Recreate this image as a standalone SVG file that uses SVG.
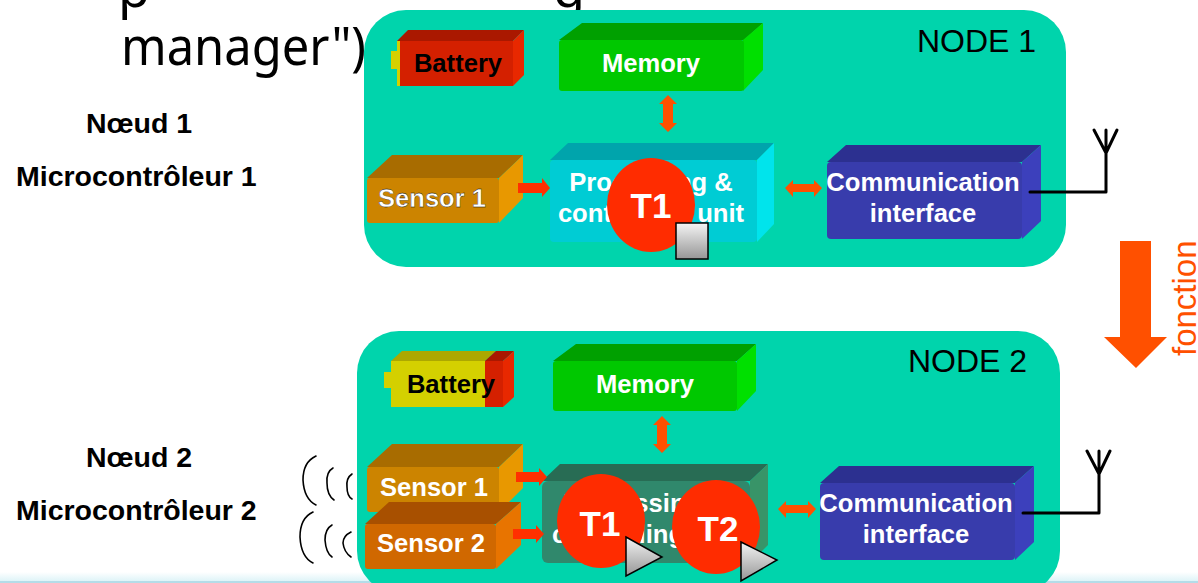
<svg xmlns="http://www.w3.org/2000/svg" width="1198" height="583" viewBox="0 0 1198 583">
<style>
text{font-family:"Liberation Sans",Arial,sans-serif}
.lb{font-weight:bold;font-size:25.6px;fill:#fff;text-anchor:middle}
.bk{font-weight:bold;font-size:25.6px;fill:#000;text-anchor:middle}
.side{font-weight:bold;font-size:28.5px;fill:#000}
.tt{font-weight:bold;font-size:35px;fill:#fff;text-anchor:middle}
.nd{font-size:32px;fill:#000}
.panel{fill:#00D4AC}
.ball{fill:#FF2C00}
.wave{fill:none;stroke:#000;stroke-width:1.6;stroke-linecap:round}
.ant{fill:none;stroke:#000;stroke-width:3;stroke-linecap:round;stroke-linejoin:round}
.flow{fill:#FF3000}
.bi{fill:#FF5000}
.state{stroke:#000;stroke-width:1.5;fill:url(#grey)}
</style>
<defs>
<linearGradient id="grey" x1="0" y1="0" x2="0" y2="1"><stop offset="0" stop-color="#F4F4F4"/><stop offset="1" stop-color="#969696"/></linearGradient>
<linearGradient id="strip" x1="0" y1="0" x2="0" y2="1"><stop offset="0" stop-color="#FFFFFF"/><stop offset="0.8" stop-color="#DFF4F8"/><stop offset="0.85" stop-color="#B4DCE8"/><stop offset="1" stop-color="#B4DCE8"/></linearGradient>
</defs>
<rect width="1198" height="583" fill="#fff"/>
<rect x="0" y="572" width="1198" height="11" fill="url(#strip)"/>
<g id="title">
<text x="118" y="7" font-size="52" style="font-family:'Noto Sans',sans-serif">p</text>
<text x="553" y="7" font-size="52" style="font-family:'Noto Sans',sans-serif">g</text>
<text x="121" y="65" font-size="52" textLength="245" lengthAdjust="spacingAndGlyphs" style="font-family:'Noto Sans',sans-serif">manager")</text>
</g>
<g id="labels">
<text class="side" x="86" y="133">Nœud 1</text>
<text class="side" x="16" y="186">Microcontrôleur 1</text>
<text class="side" x="86" y="467">Nœud 2</text>
<text class="side" x="16" y="520">Microcontrôleur 2</text>
</g>
<g id="waves">
<path class="wave" d="M316 456Q303 462 303 480Q304 499 316 505"/>
<path class="wave" d="M333 468Q326 472 327 483Q327 495 334 500"/>
<path class="wave" d="M352 474Q346 478 347 487Q347 496 352 499"/>
<path class="wave" d="M313 512Q300 518 300 537Q301 557 313 563"/>
<path class="wave" d="M332 525Q325 529 325 540Q326 553 332 557"/>
<path class="wave" d="M351 532Q343 536 343 543Q344 552 351 557"/>
</g>
<g id="node1">
<rect class="panel" x="364" y="10" width="702" height="257" rx="42" ry="42"/>
<text class="nd" x="917" y="52">NODE 1</text>
</g>
<g id="node2">
<rect class="panel" x="357" y="331" width="703" height="262" rx="42" ry="42"/>
<text class="nd" x="908" y="372">NODE 2</text>
</g>
<g id="battery1">
<rect x="391" y="51" width="7" height="18" fill="#D4D000"/>
<rect x="397" y="41" width="4" height="45" fill="#D4D000"/>
<polygon points="397,41 408,30 524,30 513,41" fill="#AA1800"/>
<polygon points="513,41 524,30 524,75 513,86" fill="#E82800"/>
<rect x="400" y="41" width="113" height="45" fill="#D42000"/>
<text class="bk" x="458" y="72">Battery</text>
</g>
<g id="memory1">
<polygon points="559,40 582,23 763,23 744,40" fill="#00A000"/>
<polygon points="743,40 763,23 763,70 743,91" fill="#00E000"/>
<rect x="559" y="40" width="185" height="51" rx="3" fill="#00C800"/>
<text class="lb" x="651" y="72">Memory</text>
</g>
<g id="sensor1">
<polygon points="367,178 392,155 523,155 499,178" fill="#A86C00"/>
<polygon points="499,178 523,155 523,198 499,223" fill="#E89800"/>
<rect x="367" y="178" width="132" height="45" rx="3" fill="#CC8400"/>
<text class="lb" x="432" y="207" stroke="#000" stroke-width="0.3">Sensor 1</text>
</g>
<g id="processing1">
<polygon points="550,160 568,143 774,143 757,160" fill="#00A4AC"/>
<polygon points="757,160 774,143 774,224 757,242" fill="#00E4EC"/>
<rect x="550" y="160" width="207" height="82" rx="4" fill="#00CCD4"/>
<text class="lb" x="651" y="191">Processing &amp;</text>
<text class="lb" x="651" y="222">controlling unit</text>
</g>
<g id="comm1">
<polygon points="827,162 846,145 1041,145 1022,162" fill="#2C3090"/>
<polygon points="1022,162 1041,145 1041,221 1022,239" fill="#3C40BC"/>
<rect x="827" y="162" width="195" height="77" rx="4" fill="#383CAC"/>
<text class="lb" x="923" y="191">Communication</text>
<text class="lb" x="923" y="222">interface</text>
</g>
<g id="battery2">
<rect x="384" y="372" width="8" height="16" fill="#D4D000"/>
<polygon points="391,361 402,351 496,351 485,361" fill="#ACA800"/>
<polygon points="485,361 496,351 514,351 503,361" fill="#AA1800"/>
<polygon points="503,361 514,351 514,397 503,407" fill="#E82800"/>
<rect x="391" y="361" width="94" height="46" fill="#D4D000"/>
<rect x="485" y="361" width="18" height="46" fill="#D42000"/>
<text class="bk" x="451" y="393">Battery</text>
</g>
<g id="memory2">
<polygon points="553,361 576,344 756,344 737,361" fill="#00A000"/>
<polygon points="737,361 756,344 756,391 737,411" fill="#00E000"/>
<rect x="553" y="361" width="184" height="50" rx="3" fill="#00C800"/>
<text class="lb" x="645" y="393">Memory</text>
</g>
<g id="sensor2-1">
<polygon points="367,467 392,444 523,444 499,467" fill="#A86C00"/>
<polygon points="499,467 523,444 523,488 499,512" fill="#E89800"/>
<rect x="367" y="467" width="132" height="45" rx="3" fill="#CC8400"/>
<text class="lb" x="434" y="496">Sensor 1</text>
</g>
<g id="sensor2-2">
<polygon points="365,524 389,502 521,502 496,524" fill="#A85000"/>
<polygon points="496,524 521,502 521,545 496,569" fill="#E87400"/>
<rect x="365" y="524" width="131" height="45" rx="3" fill="#D06800"/>
<text class="lb" x="431" y="552">Sensor 2</text>
</g>
<g id="processing2">
<polygon points="542,481 560,464 768,464 750,481" fill="#286C54"/>
<polygon points="750,481 768,464 768,545 750,563" fill="#389468"/>
<rect x="542" y="481" width="208" height="82" rx="6" fill="#30886C"/>
<text class="lb" x="645" y="512">Processing &amp;</text>
<text class="lb" x="645" y="543">controlling unit</text>
</g>
<g id="comm2">
<polygon points="820,483 839,466 1034,466 1015,483" fill="#2C3090"/>
<polygon points="1015,483 1034,466 1034,542 1015,560" fill="#3C40BC"/>
<rect x="820" y="483" width="195" height="77" rx="4" fill="#383CAC"/>
<text class="lb" x="916" y="512">Communication</text>
<text class="lb" x="916" y="543">interface</text>
</g>
<g id="connectors">
<polygon class="flow" points="518,183 542,183 542,178 550,188 542,197 542,193 518,193"/>
<polygon class="flow" points="516,472 539,472 539,468 547,477 539,486 539,482 516,482"/>
<polygon class="flow" points="513,529 536,529 536,525 544,534 536,543 536,539 513,539"/>
<polygon class="bi" points="668,95 677,104 673,104 673,123 677,123 668,132 659,123 663,123 663,104 659,104"/>
<polygon class="bi" points="662,416 671,425 667,425 667,444 671,444 662,453 653,444 657,444 657,425 653,425"/>
<polygon class="bi" points="785,188 793,180 793,184 814,184 814,180 822,188 814,197 814,192 793,192 793,197"/>
<polygon class="bi" points="778,509 786,501 786,505 808,505 808,501 816,509 808,518 808,513 786,513 786,518"/>
<path class="ant" d="M1030 192H1106V130M1094 130L1106 153L1117 130"/>
<path class="ant" d="M1023 513H1099V451M1087 451L1099 474L1110 451"/>
</g>
<g id="function-arrow">
<polygon points="1120,241 1151,241 1151,337 1167,337 1136,368 1104,337 1120,337" fill="#FF5000"/>
<text transform="translate(1196 356) rotate(-90)" font-size="33" fill="#FF5000">fonction</text>
</g>
<g id="task1-a">
<ellipse class="ball" cx="651" cy="205" rx="44" ry="47"/>
<text class="tt" x="651" y="218">T1</text>
<rect class="state" x="676" y="223" width="32" height="36"/>
</g>
<g id="task1-b">
<ellipse class="ball" cx="601" cy="521" rx="44" ry="47"/>
<text class="tt" x="600" y="536">T1</text>
<polygon class="state" points="626,537 662,557 626,576"/>
</g>
<g id="task2">
<ellipse class="ball" cx="716" cy="527" rx="44" ry="47"/>
<text class="tt" x="718" y="541">T2</text>
<polygon class="state" points="741,542 777,560 741,581"/>
</g>
</svg>
